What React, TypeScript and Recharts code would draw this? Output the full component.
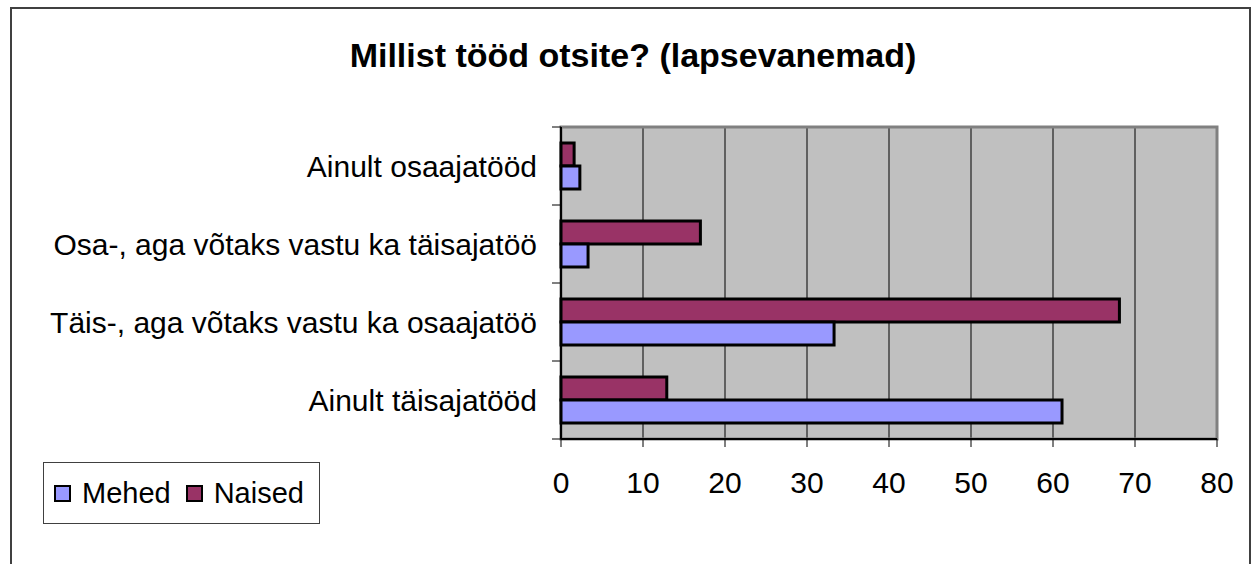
import { Bar, BarChart, CartesianGrid, ReferenceArea, XAxis, YAxis } from 'recharts';

const categories = [
  'Ainult osaajatööd',
  'Osa-, aga võtaks vastu ka täisajatöö',
  'Täis-, aga võtaks vastu ka osaajatöö',
  'Ainult täisajatööd'
];
const mehed = [2.3, 3.3, 33.3, 61.1];
const naised = [1.6, 17, 68.1, 12.9];
const xTicks = [0, 10, 20, 30, 40, 50, 60, 70, 80];

const series = [
  { key: 'Mehed', color: '#9999FF' },
  { key: 'Naised', color: '#993366' }
];

const data = categories.map((name, i) => ({ name, Mehed: mehed[i], Naised: naised[i] }));

const font = '"Liberation Sans", Arial, sans-serif';

function CategoryTick(props: any) {
  const { x, y, payload, index } = props;
  const half = payload?.offset ?? 0;
  const last = index === categories.length - 1;
  return (
    <g>
      <line x1={x} x2={x + 9} y1={y - half} y2={y - half} stroke="#000" strokeWidth={1} />
      {last && <line x1={x} x2={x + 9} y1={y + half} y2={y + half} stroke="#000" strokeWidth={1} />}
      <text x={x - 15} y={y} dy="0.36em" textAnchor="end" fontSize={30} fontFamily={font} fill="#000">
        {payload.value}
      </text>
    </g>
  );
}

function LegendBox() {
  return (
    <div
      style={{
        position: 'absolute',
        left: 43,
        top: 462,
        display: 'flex',
        alignItems: 'center',
        width: 277,
        height: 62,
        boxSizing: 'border-box',
        border: '1px solid #404040',
        background: '#fff',
        paddingLeft: 10,
        fontFamily: font,
        fontSize: 29
      }}
    >
      {series.map((s) => (
        <span key={s.key} style={{ display: 'flex', alignItems: 'center', marginRight: 15 }}>
          <span
            style={{
              display: 'inline-block',
              width: 13,
              height: 13,
              border: '2px solid #000',
              background: s.color,
              marginRight: 11
            }}
          />
          {s.key}
        </span>
      ))}
    </div>
  );
}

export default function App() {
  return (
    <div style={{ position: 'absolute', left: 0, top: 0, width: 1251, height: 564, overflow: 'hidden', background: '#fff' }}>
      <div
        style={{
          position: 'absolute',
          left: 10,
          top: 7,
          width: 1237,
          height: 620,
          border: '2px solid #404040'
        }}
      />
      <div
        style={{
          position: 'absolute',
          left: 0,
          width: 1266,
          top: 38,
          textAlign: 'center',
          fontFamily: font,
          fontWeight: 'bold',
          fontSize: 34,
          lineHeight: '34px'
        }}
      >
        Millist tööd otsite? (lapsevanemad)
      </div>
      <div style={{ position: 'absolute', left: 0, top: 0 }}>
        <BarChart
          width={1251}
          height={564}
          data={data}
          layout="vertical"
          margin={{ top: 127, right: 34, left: 10, bottom: 75 }}
          barCategoryGap={16}
          barGap={0}
        >
          <CartesianGrid horizontal={false} stroke="#000" fill="#C0C0C0" fillOpacity={1} />
          <ReferenceArea x1={0} x2={80} fill="none" stroke="#808080" strokeWidth={3} />
          <XAxis
            type="number"
            domain={[0, 80]}
            ticks={xTicks}
            interval={0}
            height={50}
            tickSize={8}
            tickMargin={25}
            axisLine={{ stroke: '#000', strokeWidth: 2 }}
            tickLine={{ stroke: '#000' }}
            tick={{ fontSize: 30, fontFamily: font, fill: '#000' }}
          />
          <YAxis
            type="category"
            dataKey="name"
            width={551}
            tickSize={9}
            tickMargin={0}
            tickLine={false}
            interval={0}
            axisLine={{ stroke: '#000', strokeWidth: 2 }}
            tick={<CategoryTick />}
          />
          <Bar dataKey="Naised" fill="#993366" stroke="#000" strokeWidth={3} isAnimationActive={false} />
          <Bar dataKey="Mehed" fill="#9999FF" stroke="#000" strokeWidth={3} isAnimationActive={false} />
        </BarChart>
      </div>
      <LegendBox />
    </div>
  );
}
